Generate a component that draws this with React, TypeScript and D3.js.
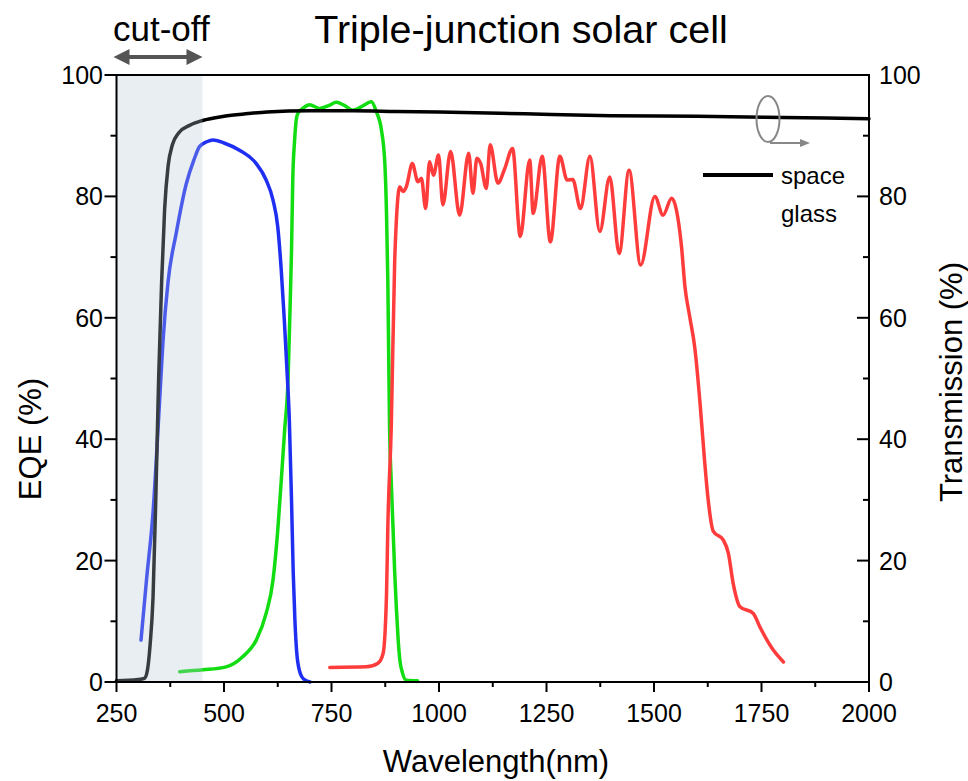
import React from 'react';
import * as d3 from 'd3';

// space glass transmission (right axis, %)
const glassWl = [250, 300, 315, 322, 328, 335, 342, 348, 355, 362, 370, 380, 395, 420, 450, 500, 550, 600, 700, 800, 900, 1000, 1200, 1400, 1600, 1800, 2000];
const glassT = [0.2, 0.4, 0.6, 2, 6, 14, 32, 50, 66, 78, 85, 88.5, 90.5, 91.7, 92.5, 93.2, 93.6, 93.9, 94.1, 94.1, 94, 93.9, 93.6, 93.3, 93.2, 93, 92.8];

// top sub-cell EQE (blue)
const blueWl = [307, 320, 335, 350, 358, 370, 389, 412, 430, 443, 460, 474, 500, 536, 575, 598, 614, 625, 633, 640, 646, 652, 657, 661, 665, 669, 675, 685, 700];
const blueEqe = [6.9, 17, 28, 46, 56, 66, 74, 82, 86, 88.2, 89, 89.3, 88.8, 87.6, 85.4, 82.7, 79.4, 75, 68, 60, 52, 43, 30, 18, 10, 5, 2, 0.5, 0];

// middle sub-cell EQE (green)
const greenWl = [397, 451, 505, 544, 575, 598, 614, 625, 633, 641, 649, 653, 657, 660, 664, 668, 672, 685, 699, 722, 745, 761, 780, 800, 820, 843, 854, 866, 874, 878, 881, 885, 889, 893, 897, 901, 905, 909, 915, 924, 950];
const greenEqe = [1.7, 2, 2.5, 4.2, 6.9, 11.3, 16.8, 25, 33, 41.5, 50, 60, 71, 83, 89, 92.6, 93.7, 94.6, 95.1, 94.5, 95, 95.5, 95, 94.2, 94.8, 95.6, 94, 91, 85.5, 77, 66, 42, 33, 25.6, 18, 12, 7, 3.6, 1.5, 0.3, 0.2];

// bottom sub-cell EQE (red)
const redWl = [746, 831, 858, 870, 878, 881, 889, 897, 909, 916, 924, 938, 951, 959, 969, 978, 987, 999, 1009, 1027, 1048, 1069, 1079, 1088, 1097, 1110, 1119, 1137, 1153, 1171, 1189, 1211, 1219, 1240, 1259, 1281, 1298, 1311, 1329, 1351, 1374, 1397, 1419, 1442, 1469, 1502, 1521, 1541, 1552, 1564, 1572, 1583, 1595, 1607, 1617, 1626, 1638, 1661, 1673, 1684, 1700, 1731, 1746, 1777, 1801];
const redEqe = [2.4, 2.5, 3.1, 4.7, 14.6, 25.6, 42, 69.5, 81.6, 80.8, 81.6, 85.4, 82.4, 83, 78, 85.7, 83.5, 86.8, 78.6, 87.4, 76.9, 87.1, 80.5, 86.3, 85.4, 81.3, 88.5, 82.2, 84.6, 87.9, 73.4, 86, 77.2, 86.6, 72.5, 86.6, 82.7, 82.8, 78, 86.6, 74.2, 83.2, 70.6, 84.3, 68.7, 80, 76.9, 79.7, 77.8, 71.7, 65.1, 60.2, 55, 46, 37, 30, 24.8, 23.4, 21.2, 16.3, 12.4, 11.3, 9.1, 5.3, 3.3];

const xTicks = [250, 500, 750, 1000, 1250, 1500, 1750, 2000];
const yTicks = [0, 20, 40, 60, 80, 100];
const cutOff = [250, 450];

const W = 968;
const H = 781;
const left = 116.5;
const right = 869;
const top = 75;
const bottom = 682;
const font = '"Liberation Sans", Arial, sans-serif';

export default function App() {
  const x = d3.scaleLinear().domain([250, 2000]).range([left, right]);
  const y = d3.scaleLinear().domain([0, 100]).range([bottom, top]);
  const line = d3
    .line<[number, number]>()
    .x((d) => x(d[0]))
    .y((d) => y(d[1]))
    .curve(d3.curveMonotoneX);
  const pairs = (a: number[], b: number[]) => a.map((v, i) => [v, b[i]] as [number, number]);

  const minorX = d3.range(250, 2001, 125).filter((v) => !xTicks.includes(v));
  const minorY = d3.range(10, 100, 20);

  const series = [
    { d: pairs(greenWl, greenEqe), c: '#12dc12' },
    { d: pairs(blueWl, blueEqe), c: '#1f2ff2' },
    { d: pairs(redWl, redEqe), c: '#ff3c3c' },
    { d: pairs(glassWl, glassT), c: '#000000' },
  ];

  const ax0 = x(cutOff[0]) - 3;
  const ax1 = x(cutOff[1]);
  const ay = 57;

  return (
    <svg width={W} height={H} style={{ position: 'absolute', left: 0, top: 0, background: '#fff' }} fontFamily={font}>
      {series.map((s, i) => (
        <path key={i} d={line(s.d) || ''} fill="none" stroke={s.c} strokeWidth={3.5} strokeLinejoin="round" strokeLinecap="round" />
      ))}
      {/* cut-off shading */}
      <rect x={x(cutOff[0])} y={top} width={x(cutOff[1]) - x(cutOff[0])} height={bottom - top} fill="rgb(182,198,215)" opacity={0.3} />

      {/* frame */}
      <rect x={left} y={top} width={right - left} height={bottom - top} fill="none" stroke="#000" strokeWidth={2} />

      {/* x ticks */}
      {xTicks.map((t) => (
        <g key={t}>
          <line x1={x(t)} x2={x(t)} y1={bottom} y2={bottom + 10} stroke="#000" strokeWidth={2} />
          <text x={x(t)} y={722} textAnchor="middle" fontSize={25}>{t}</text>
        </g>
      ))}
      {minorX.map((t) => (
        <line key={t} x1={x(t)} x2={x(t)} y1={bottom} y2={bottom + 5} stroke="#000" strokeWidth={2} />
      ))}

      {/* y ticks left (outward) and right (inward) */}
      {yTicks.map((t) => (
        <g key={t}>
          <line x1={left - 12} x2={left} y1={y(t)} y2={y(t)} stroke="#000" strokeWidth={2} />
          <text x={103} y={y(t) + 9} textAnchor="end" fontSize={25}>{t}</text>
          <line x1={right - 12} x2={right} y1={y(t)} y2={y(t)} stroke="#000" strokeWidth={2} />
          <text x={879} y={y(t) + 9} textAnchor="start" fontSize={25}>{t}</text>
        </g>
      ))}
      {minorY.map((t) => (
        <g key={t}>
          <line x1={left - 6} x2={left} y1={y(t)} y2={y(t)} stroke="#000" strokeWidth={2} />
          <line x1={right - 6} x2={right} y1={y(t)} y2={y(t)} stroke="#000" strokeWidth={2} />
        </g>
      ))}

      {/* axis titles */}
      <text x={496} y={772} textAnchor="middle" fontSize={31}>Wavelength(nm)</text>
      <text transform={`translate(41,439) rotate(-90)`} textAnchor="middle" fontSize={31}>EQE (%)</text>
      <text transform={`translate(962,382) rotate(-90)`} textAnchor="middle" fontSize={31}>Transmission (%)</text>

      {/* title */}
      <text x={521} y={43} textAnchor="middle" fontSize={39.5}>Triple-junction solar cell</text>
      <text x={113} y={41} fontSize={35}>cut-off</text>

      {/* cut-off double arrow */}
      <line x1={ax0 + 12} x2={ax1 - 12} y1={ay} y2={ay} stroke="#555" strokeWidth={4} />
      <polygon points={`${ax0},${ay} ${ax0 + 16},${ay - 8} ${ax0 + 16},${ay + 8}`} fill="#555" />
      <polygon points={`${ax1},${ay} ${ax1 - 16},${ay - 8} ${ax1 - 16},${ay + 8}`} fill="#555" />

      {/* legend */}
      <line x1={703} x2={773} y1={175} y2={175} stroke="#000" strokeWidth={4} />
      <text x={781} y={184} fontSize={24}>space</text>
      <text x={781} y={222} fontSize={24}>glass</text>

      {/* right-axis marker */}
      <ellipse cx={768} cy={119} rx={11.5} ry={23} fill="none" stroke="#888" strokeWidth={2} />
      <line x1={770} x2={802} y1={143} y2={143} stroke="#888" strokeWidth={2} />
      <polygon points="810,143 800,139 800,147" fill="#888" />
    </svg>
  );
}
